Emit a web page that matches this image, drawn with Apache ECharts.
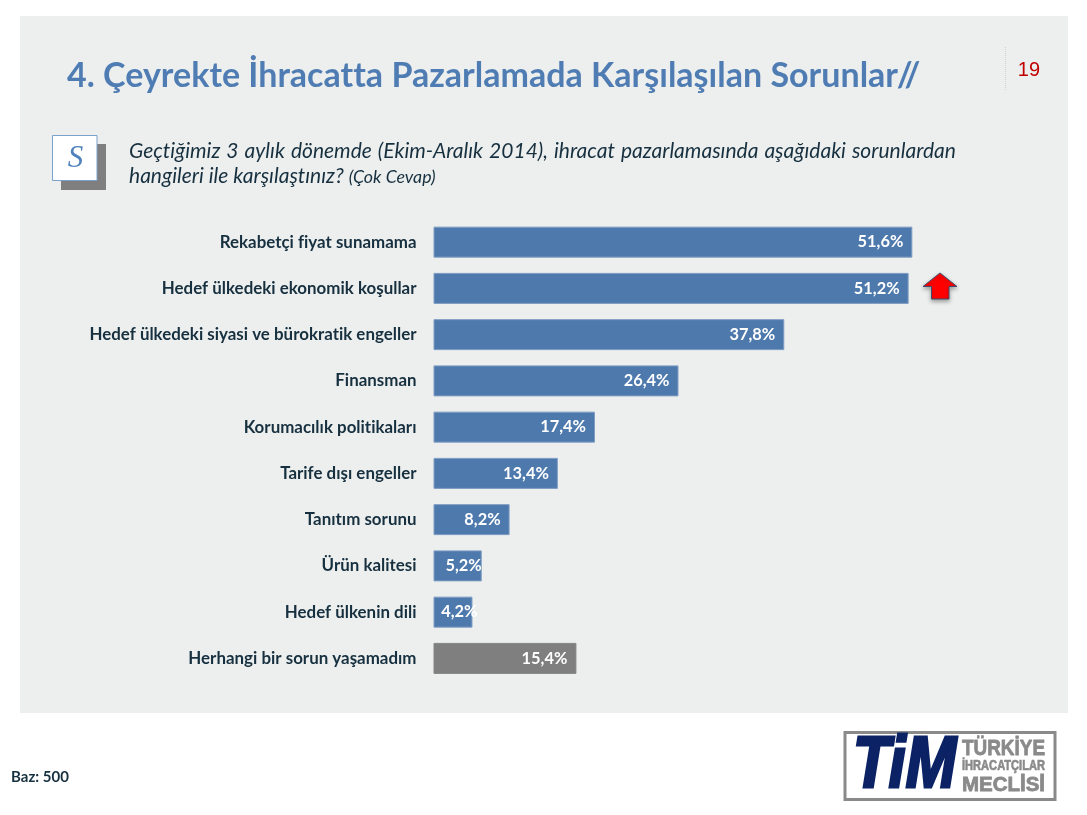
<!DOCTYPE html>
<html><head><meta charset="utf-8">
<style>html,body{margin:0;padding:0;background:#fff}#c{width:1087px;height:815px}</style>
<script src="https://cdn.jsdelivr.net/npm/echarts@6/dist/echarts.min.js"></script>
</head><body><div id="c"></div>
<script>
const categories = ["Rekabetçi fiyat sunamama","Hedef ülkedeki ekonomik koşullar","Hedef ülkedeki siyasi ve bürokratik engeller","Finansman","Korumacılık politikaları","Tarife dışı engeller","Tanıtım sorunu","Ürün kalitesi","Hedef ülkenin dili","Herhangi bir sorun yaşamadım"];
const values = [51.6,51.2,37.8,26.4,17.4,13.4,8.2,5.2,4.2,15.4];
const title = "4. Çeyrekte İhracatta Pazarlamada Karşılaşılan Sorunlar//";
const questionLine1 = "Geçtiğimiz 3 aylık dönemde (Ekim-Aralık 2014), ihracat pazarlamasında aşağıdaki sorunlardan";
const questionLine2 = "hangileri ile karşılaştınız?";
const questionNote = "(Çok Cevap)";
const baseNote = "Baz: 500";
const pageNumber = "19";

const BLUE = "#4E79AD", GREY = "#7F7F7F", INK = "#17303F";
const SANS = "Lato, 'Open Sans', sans-serif";

// Lato's tt/ti/fi ligatures are absent from the reference; a tiny letter spacing switches them off
const P = CanvasRenderingContext2D.prototype, ft = P.fillText;
P.fillText = function(...a){ this.letterSpacing = "0.01px"; return ft.apply(this,a); };

const chart = echarts.init(document.getElementById("c"), null, {renderer:"canvas"});

const mc = document.createElement("canvas").getContext("2d");
mc.letterSpacing = "0.01px";
const qFont = "italic 21px Lato";
mc.font = qFont;
const words = questionLine1.split(" ");
const total = words.reduce((s,w)=>s+mc.measureText(w).width,0);
const gap = (956-129-total)/(words.length-1);
let wx = 129;
const wordEls = words.map(w=>{
  const el = {type:"text",x:wx,y:151,style:{text:w,font:qFont,fill:INK,textAlign:"left",textVerticalAlign:"middle"}};
  wx += mc.measureText(w).width+gap;
  return el;
});
const l2w = mc.measureText(questionLine2+" ").width;

const logoText = (text,x,y,size,targetW,fill,style,stroke)=>{
  const font = `${style} ${size}px 'Liberation Sans'`;
  mc.font = font;
  const sx = targetW/mc.measureText(text).width;
  return {type:"text",x,y,scaleX:sx,style:{text,font,fill,stroke:fill,lineWidth:stroke,textAlign:"left",textVerticalAlign:"middle"}};
};

chart.setOption({
  animation:false,
  backgroundColor:"#fff",
  grid:{left:433.5,top:219,width:556.8,height:462.5,containLabel:false},
  xAxis:{type:"value",min:0,max:60,show:false},
  yAxis:{type:"category",inverse:true,data:categories,
    axisLine:{show:false},axisTick:{show:false},
    axisLabel:{margin:17,fontFamily:SANS,fontWeight:"bold",fontSize:16.9,color:INK}},
  series:[{type:"bar",barWidth:31,z:5,
    data:values.map((v,i)=>{
      const last = i===values.length-1;
      const off = i===8 ? [14,0] : i===7 ? [9,0] : [0,0];
      return {value:v,
        itemStyle:{color:last?GREY:BLUE,borderColor:last?"#858585":"#7F9DC2",borderWidth:1},
        label:{offset:off}};
    }),
    label:{show:true,position:"insideRight",distance:9,
      formatter:p=>String(p.value).replace(".",",")+"%",
      fontFamily:SANS,fontWeight:"bold",fontSize:16.4,color:"#fff"}}],
  graphic:{elements:[
    {type:"rect",z:-10,shape:{x:20,y:16,width:1048,height:697},style:{fill:"#EDEFEF"}},
    {type:"text",x:67,y:76,style:{text:title,font:`bold 34px ${SANS}`,fill:"#4F7DB3",textVerticalAlign:"middle"}},
    {type:"line",shape:{x1:1005.5,y1:47,x2:1005.5,y2:91},style:{stroke:"#d0d2d2",lineWidth:1,lineDash:[1,1]}},
    {type:"text",x:1029,y:70,style:{text:pageNumber,font:"20px 'Liberation Sans'",fill:"#C00000",textAlign:"center",textVerticalAlign:"middle"}},
    {type:"rect",shape:{x:61,y:144,width:45,height:46},style:{fill:GREY}},
    {type:"rect",shape:{x:52.5,y:135.5,width:44.5,height:45},style:{fill:"#fff",stroke:"#7AA0CC",lineWidth:1}},
    {type:"text",x:75.5,y:158.5,style:{text:"S",font:"italic 31px 'Liberation Serif'",fill:"#4F81BD",textAlign:"center",textVerticalAlign:"middle"}},
    ...wordEls,
    {type:"text",x:129,y:176,style:{text:questionLine2,font:qFont,fill:INK,textVerticalAlign:"middle"}},
    {type:"text",x:129+l2w,y:177,style:{text:questionNote,font:"italic 17.8px Lato",fill:INK,textVerticalAlign:"middle"}},
    {type:"polygon",z:10,shape:{points:[[940,273],[957,286.5],[949,286.5],[949,299],[931.5,299],[931.5,286.5],[923,286.5]]},
      style:{fill:"#FF0000",stroke:"#3F4A6B",lineWidth:1,shadowBlur:4,shadowColor:"rgba(0,0,0,0.35)",shadowOffsetY:2}},
    {type:"text",x:11,y:777,style:{text:baseNote,font:`bold 15px ${SANS}`,fill:INK,textVerticalAlign:"middle"}},
    {type:"rect",shape:{x:845,y:732.5,width:210,height:67},style:{fill:"#fff",stroke:"#8A8A8A",lineWidth:3}},
    logoText("TiM",853,767,72,103,"#0B2265","italic bold",3),
    logoText("TÜRKİYE",962,749,22,83,"#8A8A8A","bold",0.8),
    logoText("İHRACATÇILAR",962,766,14,83,"#8A8A8A","bold",0.6),
    logoText("MECLİSİ",962,785,20,83,"#8A8A8A","bold",0.8)
  ]}
});
</script></body></html>
